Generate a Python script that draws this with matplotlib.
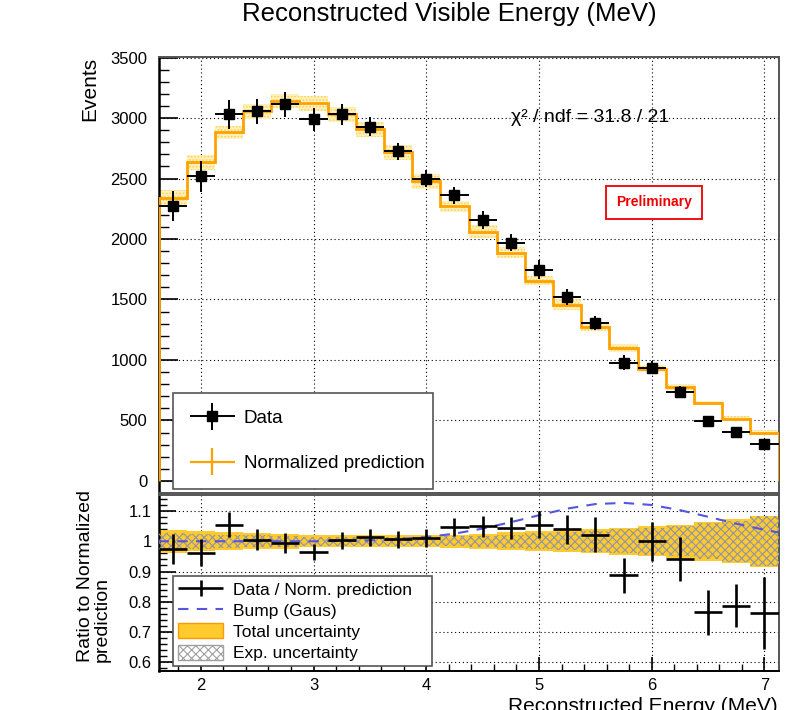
import numpy as np
import matplotlib
matplotlib.use('Agg')
import matplotlib.pyplot as plt
from matplotlib.patches import Patch
from matplotlib.lines import Line2D
from matplotlib.legend_handler import HandlerErrorbar
from matplotlib.ticker import MultipleLocator

plt.rcParams['font.family'] = ['Liberation Sans', 'DejaVu Sans']
plt.rcParams['hatch.linewidth'] = 0.8

# ---------------- data ----------------
energy = [1.75, 2.0, 2.25, 2.5, 2.75, 3.0, 3.25, 3.5, 3.75, 4.0, 4.25,
          4.5, 4.75, 5.0, 5.25, 5.5, 5.75, 6.0, 6.25, 6.5, 6.75, 7.0]
bin_half_width = 0.125

data_events = [2270, 2517, 3030, 3055, 3113, 2990, 3030, 2930, 2725, 2500, 2360,
               2160, 1970, 1747, 1523, 1308, 977, 936, 737, 497, 406, 305]
data_err = [124, 128, 119, 106, 104, 93, 87, 80, 73, 73, 69,
            75, 72, 76, 65, 58, 61, 55, 45, 40, 40, 44]

pred_events = [2337, 2633, 2881, 3055, 3138, 3121, 3030, 2906, 2716, 2476, 2270,
               2062, 1888, 1656, 1457, 1275, 1101, 928, 779, 646, 514, 398]
pred_band = [69, 60, 55, 62, 58, 62, 60, 62, 65, 62, 48,
             55, 48, 35, 44, 37, 35, 28, 25, 18, 20, 20]

ratio = [0.975, 0.962, 1.055, 1.005, 0.995, 0.964, 1.003, 1.014, 1.006, 1.010, 1.046,
         1.050, 1.044, 1.055, 1.040, 1.022, 0.887, 1.000, 0.940, 0.765, 0.787, 0.763]
ratio_err = [0.050, 0.044, 0.041, 0.034, 0.033, 0.027, 0.028, 0.028, 0.028, 0.030, 0.030,
             0.035, 0.037, 0.044, 0.048, 0.059, 0.059, 0.065, 0.073, 0.074, 0.072, 0.120]

total_unc = [0.038, 0.033, 0.030, 0.027, 0.025, 0.020, 0.020, 0.020, 0.020, 0.020, 0.021,
             0.024, 0.030, 0.033, 0.036, 0.040, 0.044, 0.050, 0.055, 0.064, 0.072, 0.085]
exp_unc = [0.028, 0.025, 0.022, 0.020, 0.018, 0.015, 0.015, 0.015, 0.015, 0.015, 0.016,
           0.018, 0.022, 0.026, 0.030, 0.034, 0.039, 0.045, 0.050, 0.060, 0.068, 0.082]

bump_energy = [1.625, 2.0, 2.5, 3.0, 3.25, 3.5, 3.75, 4.0, 4.25, 4.5, 4.75, 5.0,
               5.25, 5.5, 5.75, 6.0, 6.25, 6.5, 6.75, 7.0, 7.125]
bump_ratio = [1.0, 1.0, 1.0, 1.0, 1.001, 1.003, 1.007, 1.014, 1.025, 1.042, 1.063, 1.086,
              1.108, 1.123, 1.127, 1.120, 1.103, 1.081, 1.058, 1.038, 1.029]

title = "Reconstructed Visible Energy (MeV)"
chi2_text = "\u03c7\u00b2 / ndf = 31.8 / 21"

# ---------------- derived ----------------
e = np.array(energy)
edges = np.append(e - bin_half_width, e[-1] + bin_half_width)
pred = np.array(pred_events, float)
pb = np.array(pred_band, float)
tot = np.array(total_unc)
ex = np.array(exp_unc)

W, H = 795, 710
fig = plt.figure(figsize=(W / 100, H / 100), dpi=100)

def fx(p):
    return p / W

def fy(p):
    return 1 - p / H

L, R = 158.5, 778.5
ax1 = fig.add_axes([fx(L), fy(493), fx(R - L), (493 - 57) / H])
ax2 = fig.add_axes([fx(L), fy(671), fx(R - L), (671 - 495) / H])

grid_kw = dict(color='black', linestyle=(0, (1, 2.5)), linewidth=0.8)

# ---------------- top panel ----------------
ax1.stairs(pred + pb, edges, baseline=pred - pb, fill=True,
           facecolor='#fff0c0', edgecolor='#ffd34d', hatch='.....', linewidth=0, zorder=2)
ax1.stairs(pred, edges, color='#ffa200', linewidth=2.0, zorder=3)
data_cont = ax1.errorbar(e, data_events, xerr=bin_half_width, yerr=data_err, fmt='s',
                         color='black', markersize=7.5, elinewidth=1.4, capsize=0, zorder=4)
pred_proxy = ax1.errorbar([np.nan], [np.nan], xerr=[0.1], yerr=[0.1], fmt='none',
                          ecolor='#ffa200', elinewidth=1.6)

ax1.set_xlim(edges[0], edges[-1])
ax1.set_ylim(-100, 3505)
ax1.yaxis.set_major_locator(MultipleLocator(500))
ax1.yaxis.set_minor_locator(MultipleLocator(100))
ax1.xaxis.set_major_locator(MultipleLocator(1))
ax1.tick_params(axis='y', which='major', direction='in', length=14, width=1.2,
                labelsize=12, pad=8)
ax1.tick_params(axis='y', which='minor', direction='in', length=7, width=1.0)
ax1.tick_params(axis='x', which='both', bottom=False, labelbottom=False)
ax1.grid(True, which='major', **grid_kw)
ax1.set_axisbelow(True)
for s in ['top', 'right', 'bottom']:
    ax1.spines[s].set_color('#555555')
    ax1.spines[s].set_linewidth(1.4)
ax1.spines['left'].set_linewidth(1.8)

leg1 = ax1.legend([data_cont, pred_proxy], ['Data', 'Normalized prediction'],
                  bbox_to_anchor=(fx(173), fy(487), fx(433 - 173), (487 - 393) / H),
                  bbox_transform=fig.transFigure, loc='upper left', mode='expand',
                  borderaxespad=0, fontsize=13.5, handlelength=2.4, handletextpad=0.5,
                  labelspacing=1.52, borderpad=0.88, fancybox=False, framealpha=1,
                  edgecolor='#555555',
                  handler_map={type(data_cont): HandlerErrorbar(xerr_size=1.2, yerr_size=0.72)})
leg1.get_frame().set_linewidth(1.2)

fig.text(fx(590), fy(117), chi2_text, fontsize=14, ha='center', va='center')
fig.text(fx(654), fy(202.5), 'Preliminary', fontsize=10, fontweight='bold', color='#ee0000',
         ha='center', va='center',
         bbox=dict(boxstyle='square,pad=0.7', facecolor='white', edgecolor='#ee0000',
                   linewidth=1.3))

# ---------------- ratio panel ----------------
ax2.stairs(1 + tot, edges, baseline=1 - tot, fill=True, facecolor='#ffca2e',
           linewidth=0, zorder=2)
ax2.stairs(1 + ex, edges, baseline=1 - ex, fill=True, facecolor='none',
           edgecolor='#9094a8', hatch='xxxx', linewidth=0, zorder=3)
bump_line, = ax2.plot(bump_energy, bump_ratio, color='#5555dd', linestyle=(0, (5, 4)),
                      linewidth=1.5, zorder=4)
ratio_cont = ax2.errorbar(e, ratio, xerr=bin_half_width, yerr=ratio_err, fmt='none',
                          ecolor='black', elinewidth=1.9, capsize=0, zorder=5)

ax2.set_xlim(edges[0], edges[-1])
ax2.set_ylim(0.571, 1.153)
ax2.yaxis.set_major_locator(MultipleLocator(0.1))
ax2.yaxis.set_minor_locator(MultipleLocator(0.02))
ax2.xaxis.set_major_locator(MultipleLocator(1))
ax2.xaxis.set_minor_locator(MultipleLocator(0.2))
ax2.yaxis.set_major_formatter(matplotlib.ticker.FuncFormatter(
    lambda v, p: ('%g' % round(v, 2))))
ax2.tick_params(axis='y', which='major', direction='in', length=12, width=1.2,
                labelsize=12, pad=5)
ax2.tick_params(axis='y', which='minor', direction='in', length=6, width=1.0)
ax2.tick_params(axis='x', which='major', direction='in', length=10, width=1.2,
                labelsize=12, pad=5)
ax2.tick_params(axis='x', which='minor', direction='in', length=5, width=1.0)
ax2.grid(True, which='major', zorder=6, **grid_kw)
for s in ['top', 'right']:
    ax2.spines[s].set_color('#555555')
    ax2.spines[s].set_linewidth(1.4)
ax2.spines['left'].set_linewidth(1.8)
ax2.spines['bottom'].set_linewidth(1.4)

tot_patch = Patch(facecolor='#ffca2e', edgecolor='#ff9900', linewidth=1.0)
exp_patch = Patch(facecolor='white', edgecolor='#a0a0a0', hatch='xxxx', linewidth=1.0)
leg2 = ax2.legend([ratio_cont, bump_line, tot_patch, exp_patch],
                  ['Data / Norm. prediction', 'Bump (Gaus)', 'Total uncertainty',
                   'Exp. uncertainty'],
                  bbox_to_anchor=(fx(173), fy(665), fx(432 - 173), (665 - 576) / H),
                  bbox_transform=fig.transFigure, loc='upper left', mode='expand',
                  borderaxespad=0, fontsize=12.5, handlelength=2.6, handletextpad=0.55,
                  labelspacing=0.27, borderpad=0.3, fancybox=False, framealpha=1,
                  edgecolor='#555555', handleheight=0.95,
                  handler_map={type(ratio_cont): HandlerErrorbar(xerr_size=1.3, yerr_size=0.46)})
leg2.get_frame().set_linewidth(1.2)
leg2.set_zorder(10)

# ---------------- titles / labels ----------------
fig.text(fx(449), fy(14), title, fontsize=18.5, ha='center', va='center')
fig.text(fx(90), fy(57), 'Events', fontsize=15, rotation=90, ha='center', va='top')
fig.text(fx(94), fy(662), 'Ratio to Normalized\nprediction', fontsize=14, rotation=90,
         ha='center', va='bottom', multialignment='left', linespacing=1.0)
fig.text(fx(778), fy(697), 'Reconstructed Energy (MeV)', fontsize=15, ha='right', va='top')

fig.savefig('out.png', dpi=100)
